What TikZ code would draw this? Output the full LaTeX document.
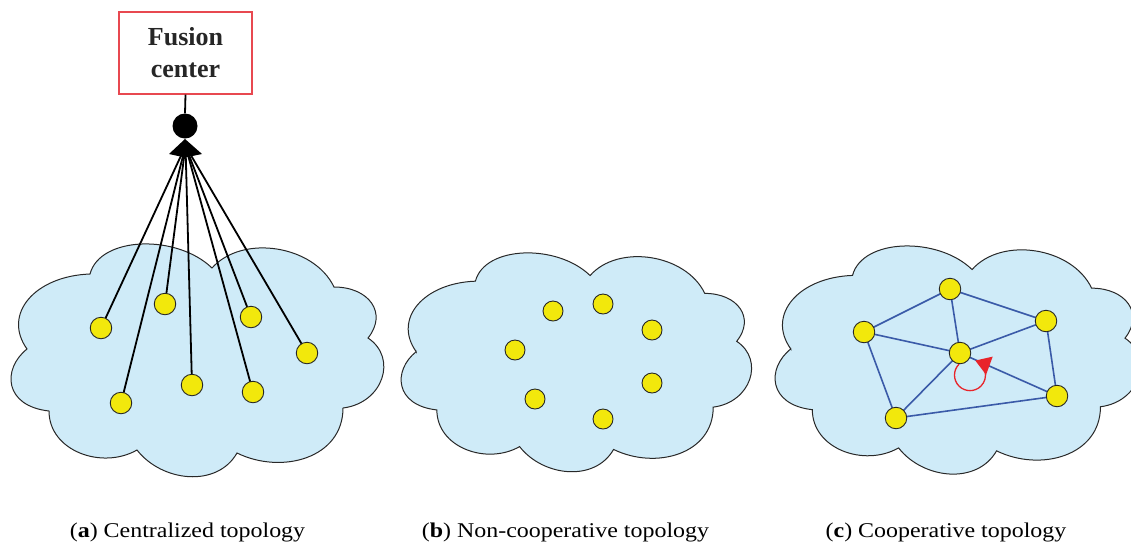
\documentclass[tikz,border=0pt]{standalone}
\usepackage{fontspec}
\setmainfont{Liberation Serif}
\usetikzlibrary{arrows.meta}
\definecolor{cloudfill}{RGB}{207,235,248}
\definecolor{cloudline}{RGB}{40,40,40}
\definecolor{sensoryellow}{RGB}{242,232,12}
\definecolor{netblue}{RGB}{58,90,168}
\definecolor{loopred}{RGB}{232,36,42}
\definecolor{boxred}{RGB}{232,72,80}
\newcommand\cloudshape{(27,349) .. controls +(-25,-35) and +(-55,2) .. (90,274)
 .. controls +(10,-38) and +(-35,-34) .. (212,268)
 .. controls +(30,-34) and +(-20,-42) .. (334,287)
 .. controls +(35,0) and +(20,-25) .. (368,338)
 .. controls +(30,20) and +(40,-5) .. (343,408)
 .. controls +(0,50) and +(45,22) .. (237,453)
 .. controls +(-20,35) and +(25,32) .. (137,450)
 .. controls +(-35,20) and +(0,40) .. (49,411)
 .. controls +(-45,-5) and +(-25,20) .. cycle}
\tikzset{
  cloudstyle/.style={fill=cloudfill, draw=cloudline, line width=1pt},
  sensor/.style={circle, draw=black!85, fill=sensoryellow, line width=0.9pt, minimum size=21.5pt, inner sep=0pt},
  sensorb/.style={sensor, minimum size=20pt},
  fan/.style={draw=black, line width=1.8pt},
  net/.style={draw=netblue, line width=1.6pt},
  fcbox/.style={draw=boxred, line width=1.1pt, fill=white, minimum width=133pt, minimum height=82pt, inner sep=0pt, align=center, font=\fontsize{26}{32}\selectfont\bfseries, text=black!85},
  caption/.style={font=\fontsize{21}{25}\selectfont, anchor=base, inner sep=0pt}
}
\begin{document}
\begin{tikzpicture}[x=1pt,y=-1pt]
\useasboundingbox (0,0) rectangle (1131,542);
\clip (0,0) rectangle (1131,542);
% clouds
\path[cloudstyle] \cloudshape;
\begin{scope}[shift={(390.8,23.6)}, scale=0.94]
\path[cloudstyle] \cloudshape;
\end{scope}
\begin{scope}[shift={(764.3,6.9)}, scale=0.98]
\path[cloudstyle] \cloudshape;
\end{scope}
% (a) centralized
\node[fcbox] (fc) at (185.5,53) {Fusion\\center};
\node[circle, fill=black, minimum size=25pt, inner sep=0pt] (hubc) at (185,126) {};
\coordinate (hub) at (185.5,146);
\draw[line width=1.8pt] (fc.south) -- (hubc.north);
\coordinate (q1) at (101,328);
\coordinate (q2) at (165,304);
\coordinate (q3) at (121,403);
\coordinate (q4) at (192,385);
\coordinate (q5) at (251,317);
\coordinate (q6) at (253,392);
\coordinate (q7) at (307,353);
\foreach \i in {1,...,7} \draw[fan] (hub) -- (q\i);
\foreach \i in {1,...,7} \node[sensor] (a\i) at (q\i) {};
\fill[black] (185,139) -- (202,154) -- (185,157.5) -- (169,154) -- cycle;
% (b) non-cooperative
\node[sensorb] (b1) at (553,311) {};
\node[sensorb] (b2) at (603,304) {};
\node[sensorb] (b3) at (652,330) {};
\node[sensorb] (b4) at (515,350) {};
\node[sensorb] (b5) at (652,383) {};
\node[sensorb] (b6) at (535,399) {};
\node[sensorb] (b7) at (603,419) {};
% (c) cooperative
\coordinate (p1) at (864,332);
\coordinate (p2) at (950,289);
\coordinate (p3) at (1046,321);
\coordinate (p4) at (960,353);
\coordinate (p5) at (1057,396);
\coordinate (p6) at (896,418);
\foreach \a/\b in {1/2,1/4,1/6,2/4,2/3,3/4,3/5,4/5,4/6,6/5}
  \draw[net] (p\a) -- (p\b);
\foreach \i in {1,...,6} \node[sensor] (c\i) at (p\i) {};
\draw[draw=loopred, line width=1.3pt, -{Triangle[length=15pt,width=19pt]}] (c4.-95) arc[start angle=225, end angle=-70, radius=15.5];
% captions
\node[caption] (capa) at (187.5,537) {\scalebox{1.14}[1]{(\textbf{a}) Centralized topology}};
\node[caption] (capb) at (565.5,537) {\scalebox{1.14}[1]{(\textbf{b}) Non-cooperative topology}};
\node[caption] (capc) at (946,537) {\scalebox{1.14}[1]{(\textbf{c}) Cooperative topology}};
\end{tikzpicture}
\end{document}
